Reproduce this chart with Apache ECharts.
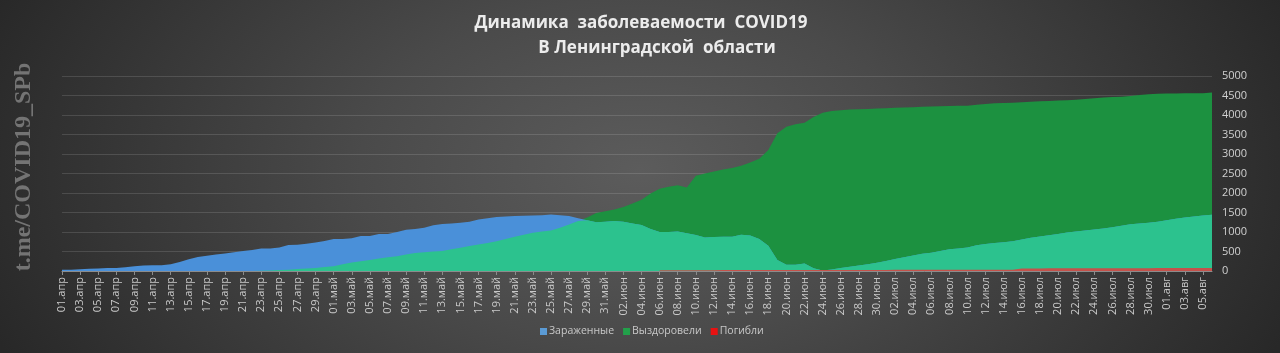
<!DOCTYPE html>
<html>
<head>
<meta charset="utf-8">
<script src="https://cdn.jsdelivr.net/npm/echarts@6/dist/echarts.min.js"></script>
<style>
html,body{margin:0;padding:0;}
#chart{width:1280px;height:353px;background:radial-gradient(ellipse 700px 430px at 640px 170px,#5c5c5c 0%,#4a4a4a 40%,#282828 100%);}
</style>
</head>
<body>
<div id="chart"></div>
<script>
const categories = [
'01.апр','02.апр','03.апр','04.апр','05.апр','06.апр','07.апр','08.апр','09.апр','10.апр',
'11.апр','12.апр','13.апр','14.апр','15.апр','16.апр','17.апр','18.апр','19.апр','20.апр',
'21.апр','22.апр','23.апр','24.апр','25.апр','26.апр','27.апр','28.апр','29.апр','30.апр',
'01.май','02.май','03.май','04.май','05.май','06.май','07.май','08.май','09.май','10.май',
'11.май','12.май','13.май','14.май','15.май','16.май','17.май','18.май','19.май','20.май',
'21.май','22.май','23.май','24.май','25.май','26.май','27.май','28.май','29.май','30.май','31.май',
'01.июн','02.июн','03.июн','04.июн','05.июн','06.июн','07.июн','08.июн','09.июн','10.июн',
'11.июн','12.июн','13.июн','14.июн','15.июн','16.июн','17.июн','18.июн','19.июн','20.июн',
'21.июн','22.июн','23.июн','24.июн','25.июн','26.июн','27.июн','28.июн','29.июн','30.июн',
'01.июл','02.июл','03.июл','04.июл','05.июл','06.июл','07.июл','08.июл','09.июл','10.июл',
'11.июл','12.июл','13.июл','14.июл','15.июл','16.июл','17.июл','18.июл','19.июл','20.июл',
'21.июл','22.июл','23.июл','24.июл','25.июл','26.июл','27.июл','28.июл','29.июл','30.июл','31.июл',
'01.авг','02.авг','03.авг','04.авг','05.авг','06.авг'
];

const infected = [
30, 35, 45, 55, 65, 75, 80, 95, 120, 140,
145, 150, 175, 230, 300, 360, 390, 420, 450, 480,
510, 540, 575, 575, 600, 665, 675, 700, 730, 770,
820, 820, 840, 900, 900, 950, 950, 1000, 1060, 1080,
1110, 1170, 1205, 1215, 1235, 1260, 1320, 1350, 1385, 1400,
1410, 1415, 1420, 1430, 1450, 1430, 1410, 1350, 1300, 1250,
1260, 1280, 1260, 1220, 1180, 1080, 1000, 1000, 1010, 970,
920, 860, 870, 880, 880, 930, 910, 820, 650, 280,
160, 160, 190, 70, 10, 40, 75, 110, 140, 175,
210, 255, 310, 355, 400, 440, 470, 510, 555, 580,
600, 660, 690, 720, 740, 765, 810, 850, 885, 915,
950, 985, 1010, 1040, 1065, 1090, 1120, 1160, 1200, 1220,
1240, 1265, 1300, 1340, 1375, 1400, 1420, 1440
];

const recovered = [
0, 0, 0, 0, 0, 0, 0, 0, 0, 0,
0, 0, 0, 0, 0, 0, 0, 0, 0, 0,
0, 0, 5, 15, 25, 35, 50, 65, 80, 100,
125, 170, 215, 250, 280, 320, 350, 380, 420, 460,
480, 500, 515, 560, 595, 640, 680, 720, 765, 820,
880, 930, 980, 1010, 1040, 1110, 1190, 1280, 1370, 1490,
1530, 1575, 1640, 1730, 1830, 1990, 2110, 2160, 2200, 2140,
2440, 2500, 2550, 2600, 2640, 2700, 2780, 2880, 3100, 3530,
3700, 3760, 3800, 3950, 4060, 4100, 4120, 4140, 4150, 4155,
4165, 4175, 4185, 4195, 4200, 4210, 4215, 4225, 4230, 4235,
4240, 4260, 4280, 4300, 4305, 4315, 4330, 4340, 4350, 4360,
4370, 4380, 4390, 4410, 4430, 4450, 4460, 4470, 4490, 4510,
4530, 4545, 4550, 4550, 4555, 4555, 4560, 4580
];

const died = [
null, null, null, null, null, null, null, null, null, null, null,
null, null, null, null, null, null, null, null, null, null, null,
null, null, null, null, null, null, null, null, null, null, null,
null, null, null, null, null, null, null, null, null, null, null,
null, null, null, null, null, null, null, null, null, null, null,
null, null, null, null, null, null, null, null, null, null, null,
20, 20, 21, 21, 22, 22, 22, 23, 23, 23,
24, 24, 24, 25, 25, 25, 26, 26, 26, 27,
27, 27, 28, 28, 28, 28, 29, 29, 29, 30,
30, 30, 30, 31, 31, 31, 32, 32, 32, 33,
66, 67, 67, 68, 68, 69, 69, 70, 70, 71,
71, 72, 72, 73, 73, 74, 74, 75, 75, 76,
76, 77
];

const seriesNames = ['Зараженные', 'Выздоровели', 'Погибли'];
const titleLines = ['Динамика  заболеваемости  COVID19', 'В Ленинградской  области'];
const watermark = 't.me/COVID19_SPb';

// Where the semi-transparent green of the original overlaps the blue, it shows teal:
// this is the overlap of the two series, taken point by point from the arrays above.
const overlap = infected.map((v, i) => Math.min(v, recovered[i]));

const chart = echarts.init(document.getElementById('chart'), null, {renderer: 'canvas'});
const titleStyle = {
  font: 'bold 17px "Open Sans"',
  fill: '#ececec',
  align: 'center',
  verticalAlign: 'middle',
  shadowColor: 'rgba(0,0,0,0.6)',
  shadowBlur: 3,
  shadowOffsetX: 1,
  shadowOffsetY: 1
};
const option = {
  backgroundColor: 'transparent',
  animation: false,
  graphic: [
    {type: 'text', x: 641, y: 23, style: Object.assign({text: titleLines[0]}, titleStyle)},
    {type: 'text', x: 657, y: 48, style: Object.assign({text: titleLines[1]}, titleStyle)},
    {
      type: 'text', x: 24, y: 167, rotation: Math.PI / 2,
      style: {text: watermark, font: 'bold 24px "Liberation Serif"', fill: '#747474', align: 'center', verticalAlign: 'middle'}
    }
  ],
  legend: {
    top: 321,
    left: 535,
    icon: 'rect',
    itemWidth: 7,
    itemHeight: 7,
    itemGap: 9,
    textStyle: {color: '#c8c8c8', fontSize: 10.5, fontFamily: 'Open Sans', padding: [0, 0, 0, -3]},
    data: [
      {name: seriesNames[0], itemStyle: {color: '#5b9bd5'}},
      {name: seriesNames[1], itemStyle: {color: '#22a04a'}},
      {name: seriesNames[2], itemStyle: {color: '#e81212'}}
    ]
  },
  grid: {left: 62, right: 68, top: 76, bottom: 82, containLabel: false},
  xAxis: {
    type: 'category',
    data: categories,
    boundaryGap: false,
    axisLine: {lineStyle: {color: '#8c8c8c', width: 1}},
    axisTick: {interval: 1, length: 4, lineStyle: {color: '#8c8c8c'}},
    axisLabel: {interval: 1, rotate: 90, color: '#cacaca', fontSize: 11, fontFamily: 'Open Sans', margin: 6},
    splitLine: {show: false}
  },
  yAxis: {
    type: 'value',
    position: 'right',
    min: 0,
    max: 5000,
    interval: 500,
    axisLine: {show: false},
    axisTick: {show: false},
    axisLabel: {color: '#d0d0d0', fontSize: 11, fontFamily: 'Open Sans', margin: 10, formatter: v => String(v)},
    splitLine: {lineStyle: {color: 'rgba(255,255,255,0.13)', width: 1}}
  },
  series: [
    {
      name: seriesNames[1], type: 'line', data: recovered, z: 2,
      showSymbol: false, symbol: 'none',
      lineStyle: {width: 0},
      itemStyle: {color: '#22a04a'},
      areaStyle: {color: '#1c9140', opacity: 1}
    },
    {
      name: seriesNames[0], type: 'line', data: infected, z: 3,
      showSymbol: false, symbol: 'none',
      lineStyle: {width: 0},
      itemStyle: {color: '#5b9bd5'},
      areaStyle: {color: '#4a90d9', opacity: 1}
    },
    {
      name: 'overlap', type: 'line', data: overlap, z: 4,
      showSymbol: false, symbol: 'none', silent: true,
      lineStyle: {width: 0},
      itemStyle: {color: '#2cc28e'},
      areaStyle: {color: '#2cc28e', opacity: 1}
    },
    {
      name: seriesNames[2], type: 'line', data: died, z: 5,
      showSymbol: false, symbol: 'none',
      lineStyle: {width: 0},
      itemStyle: {color: '#e81212'},
      areaStyle: {color: '#c4524b', opacity: 1}
    }
  ]
};
chart.setOption(option);
</script>
</body>
</html>
